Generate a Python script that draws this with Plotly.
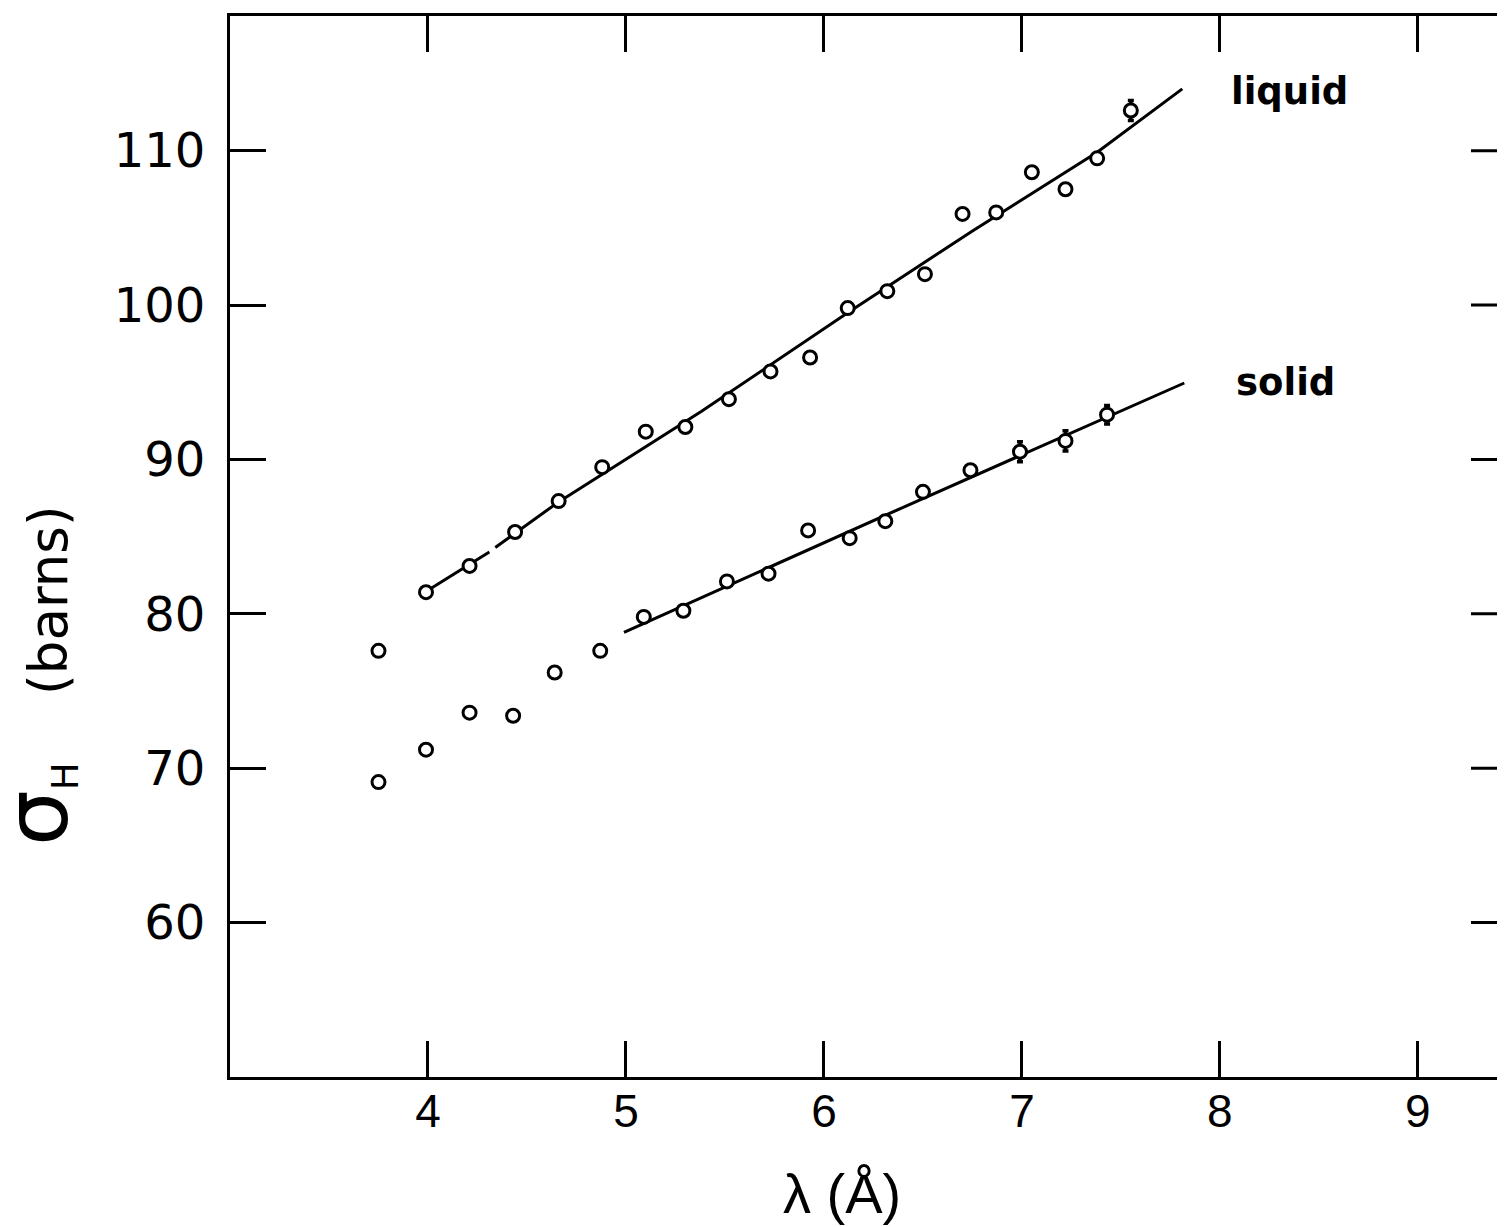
import plotly.graph_objects as go

# ---- data ----
liquid_x = [3.75, 3.99, 4.21, 4.44, 4.66, 4.88, 5.10, 5.30, 5.52, 5.73, 5.93,
            6.12, 6.32, 6.51, 6.70, 6.87, 7.05, 7.22, 7.38, 7.55]
liquid_y = [77.6, 81.4, 83.1, 85.3, 87.3, 89.5, 91.8, 92.1, 93.9, 95.7, 96.6,
            99.8, 100.9, 102.0, 105.9, 106.0, 108.6, 107.5, 109.5, 112.6]
liquid_err = [0] * 19 + [0.65]

solid_x = [3.75, 3.99, 4.21, 4.43, 4.64, 4.87, 5.09, 5.29, 5.51, 5.72, 5.92,
           6.13, 6.31, 6.50, 6.74, 6.99, 7.22, 7.43]
solid_y = [69.1, 71.2, 73.6, 73.4, 76.2, 77.6, 79.8, 80.2, 82.1, 82.6, 85.4,
           84.9, 86.0, 87.9, 89.3, 90.5, 91.2, 92.9]
solid_err = [0] * 15 + [0.65, 0.65, 0.6]

# hand-drawn fit curves
liquid_fit_x = [3.99, 4.31, None, 4.34, 4.66, 5.38, 6.12, 6.75, 7.38, 7.81]
liquid_fit_y = [81.45, 84.0, None, 84.3, 87.25, 93.1, 99.5, 104.8, 109.9, 114.0]
solid_fit_x = [4.99, 6.4, 7.82]
solid_fit_y = [78.8, 86.9, 94.95]

x_ticks = [4, 5, 6, 7, 8, 9]
y_ticks = [60, 70, 80, 90, 100, 110]

x_range = [3, 9.45]
y_range = [50, 118.72]

labels = ["liquid", "solid"]
label_x = [8.35, 8.33]
label_y = [113.8, 95.0]

# page body has a small margin; compensate so the frame lands where it should
W, H = 1499, 1219
ML, MR, MT, MB = 222, 0, 8, 150
TICKLEN = 36

fig = go.Figure()

for fx, fy in [(liquid_fit_x, liquid_fit_y), (solid_fit_x, solid_fit_y)]:
    fig.add_trace(go.Scatter(x=fx, y=fy, mode="lines",
                             line=dict(color="black", width=3),
                             connectgaps=False, showlegend=False,
                             hoverinfo="skip"))

for px, py, pe in [(liquid_x, liquid_y, liquid_err), (solid_x, solid_y, solid_err)]:
    fig.add_trace(go.Scatter(
        x=px, y=py, mode="markers",
        marker=dict(symbol="circle", size=13, color="white",
                    line=dict(color="black", width=3)),
        error_y=dict(type="data", array=pe, visible=True, color="black",
                     thickness=3.5, width=3),
        showlegend=False))

for t, lx, ly in zip(labels, label_x, label_y):
    fig.add_annotation(x=lx, y=ly, xref="x", yref="y", text=t,
                       showarrow=False, xanchor="center", yanchor="middle",
                       font=dict(family="DejaVu Sans", size=37, color="black",
                                 weight="bold"))

# right-side inward ticks (right frame edge lies beyond the picture)
pw = W - ML - MR
for v in y_ticks:
    fig.add_shape(type="line", xref="paper", yref="y",
                  x0=1 - TICKLEN / pw, x1=1, y0=v, y1=v,
                  line=dict(color="black", width=3))

# axis titles
NB = "\u00a0"
fig.add_annotation(
    xref="paper", yref="paper", x=0, y=0.378, xshift=-193,
    text="<span style='font-size:88px'>σ</span><sub>H</sub>" + NB * 4 + "(barns)",
    textangle=-90, showarrow=False, xanchor="center", yanchor="middle",
    font=dict(family="DejaVu Sans", size=53, color="black"))
fig.add_annotation(
    xref="paper", yref="paper", x=0.479, y=0, yshift=-116,
    text="λ (Å)", showarrow=False, xanchor="center", yanchor="middle",
    font=dict(family="Liberation Sans", size=56, color="black"))

fig.update_xaxes(range=x_range, tickvals=x_ticks, ticktext=[str(v) for v in x_ticks],
                 ticks="inside", ticklen=TICKLEN, tickwidth=3, tickcolor="black",
                 showline=True, linewidth=3, linecolor="black", mirror="ticks",
                 showgrid=False, zeroline=False, ticklabelstandoff=-8,
                 tickfont=dict(family="Liberation Sans", size=46, color="black"))
fig.update_yaxes(range=y_range, tickvals=y_ticks, ticktext=[str(v) for v in y_ticks],
                 ticks="inside", ticklen=TICKLEN, tickwidth=3, tickcolor="black",
                 showline=True, linewidth=3, linecolor="black", mirror=False,
                 showgrid=False, zeroline=False, ticklabelstandoff=12,
                 tickfont=dict(family="DejaVu Sans", size=48, color="black"))

fig.update_layout(width=W, height=H, plot_bgcolor="white", paper_bgcolor="white",
                  margin=dict(l=ML, r=MR, t=MT, b=MB, pad=0), showlegend=False)

fig.write_html("out.html")
